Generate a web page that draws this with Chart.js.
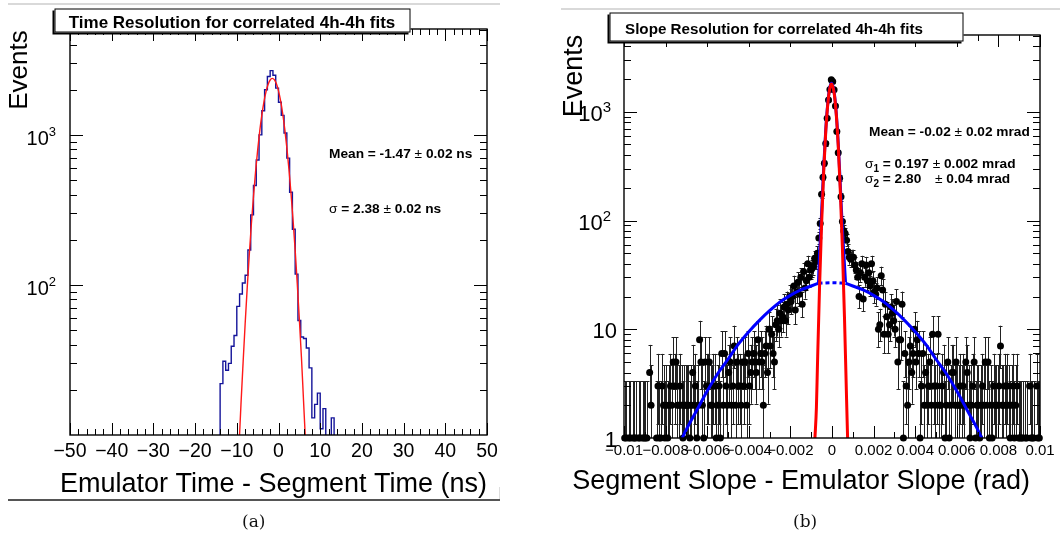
<!DOCTYPE html>
<html>
<head>
<meta charset="utf-8">
<title>Time and slope resolution for correlated 4h-4h fits</title>
<script src="https://cdn.jsdelivr.net/npm/chart.js@4.4.1/dist/chart.umd.min.js"></script>
<style>
  html, body { margin: 0; padding: 0; background: #fff; }
  body { position: relative; width: 1060px; height: 538px; overflow: hidden; }
  .panel { position: absolute; top: 0; width: 530px; height: 538px; }
  .rule { position: absolute; }
  .cap { position: absolute; top: 511px; font: 17px "DejaVu Serif", "Liberation Serif", serif; color: #111; }
</style>
</head>
<body>
<div class="panel" style="left:0"><canvas id="timeChart"></canvas></div>
<div class="panel" style="left:530px"><canvas id="slopeChart"></canvas></div>
<div class="rule" style="left:8px;top:3px;width:492px;height:2px;background:#d9d9d9"></div>
<div class="rule" style="left:561px;top:8px;width:499px;height:2px;background:#d9d9d9"></div>
<div class="rule" style="left:8px;top:499px;width:492px;height:2px;background:#555"></div>
<div class="rule" style="left:499px;top:487px;width:1px;height:12px;background:#ddd"></div>
<div class="cap" style="left:242px">(a)</div>
<div class="cap" style="left:793px">(b)</div>
<script>
// ---------- panel (a): emulator time - segment time, bins of 2/3 ns
const timeLo = -14;
const timeBinWidth = 2 / 3;
const timeCounts = [
  22, 31, 27, 30, 39, 46, 72, 87, 103, 116,
  171, 293, 460, 680, 1000, 1450, 2000, 2450, 2680, 2500,
  2050, 1650, 1350, 1030, 700, 415, 235, 118, 58, 45,
  44, 38, 28, 13, 16, 19, 11, 15, 0, 0,
  13, 0
];
// gaussian fit
const timeFitX = [-9.6, -9, -8.5, -8, -7.5, -7, -6.5, -6, -5.5, -5, -4.5, -4, -3.5, -3, -2.5, -2, -1.5,
  -1, -0.5, 0, 0.5, 1, 1.5, 2, 2.5, 3, 3.5, 4, 4.5, 5, 5.5, 6, 6.4];
const timeFitY = [7, 16, 30, 55, 96, 160, 256, 389, 568, 792, 1059, 1353, 1655, 1935, 2167, 2322, 2380,
  2334, 2190, 1967, 1690, 1389, 1093, 822, 592, 408, 269, 170, 102, 59, 33, 17, 10];
const timeTicks = [-50, -40, -30, -20, -10, 0, 10, 20, 30, 40, 50];
const timeTickLabels = ['\u221250', '\u221240', '\u221230', '\u221220', '\u221210', '0', '10', '20', '30', '40', '50'];
const timeYLabels = [{ v: 100, base: '10', exp: '2' }, { v: 1000, base: '10', exp: '3' }];

// ---------- panel (b): segment slope - emulator slope, 300 bins in [-0.01, 0.01]
const slopeLo = -0.01;
const slopeHi = 0.01;
const slopeCounts = [
  1, 1, 0, 1, 1, 0, 1, 1, 1, 0, 1, 1, 0, 1, 1,
  1, 1, 0, 4, 2, 0, 0, 0, 1, 3, 1, 1, 3, 2, 1,
  2, 1, 2, 3, 2, 5, 3, 5, 2, 2, 3, 2, 1, 2, 2,
  2, 2, 1, 2, 4, 2, 3, 1, 2, 8, 5, 2, 1, 5, 3,
  3, 5, 2, 2, 3, 3, 1, 2, 3, 1, 6, 2, 6, 3, 2,
  4, 5, 2, 3, 7, 2, 5, 3, 3, 2, 5, 3, 5, 2, 6,
  3, 4, 5, 6, 5, 4, 8, 5, 6, 5, 2, 6, 7, 4, 10,
  7, 9, 6, 5, 11, 12, 10, 14, 12, 13, 16, 12, 17, 15, 20,
  18, 20, 25, 15, 22, 27, 21, 30, 17, 34, 24, 28, 40, 30, 35,
  36, 38, 45, 42, 50, 69, 94, 174, 250, 336, 510, 870, 1280, 1600, 1970,
  1900, 1590, 1130, 660, 420, 245, 165, 98, 80, 76, 66, 52, 46, 44, 46,
  46, 39, 35, 30, 20, 33, 40, 19, 30, 39, 28, 33, 25, 40, 28,
  22, 21, 24, 10, 11, 31, 23, 9, 17, 13, 9, 11, 16, 14, 12,
  10, 18, 5, 8, 8, 17, 1, 6, 3, 2, 5, 7, 4, 6, 10,
  5, 8, 6, 1, 3, 6, 2, 4, 2, 3, 5, 2, 9, 3, 2,
  3, 9, 2, 2, 3, 4, 1, 2, 5, 1, 2, 4, 4, 2, 5,
  2, 2, 3, 2, 3, 2, 5, 4, 2, 1, 2, 3, 5, 1, 2,
  2, 1, 2, 3, 2, 5, 2, 5, 1, 2, 1, 3, 2, 2, 2,
  3, 7, 2, 2, 3, 2, 3, 2, 1, 2, 3, 1, 2, 3, 1,
  1, 1, 1, 0, 1, 1, 0, 3, 1, 1, 1, 0, 3, 1, 1
];
// narrow gaussian (red)
const narrowX = [-0.00082, -0.00075, -0.0007, -0.0006, -0.0005, -0.0004, -0.0003, -0.0002, -0.0001, -0.00002,
  0.0001, 0.0002, 0.0003, 0.0004, 0.0005, 0.0006, 0.0007, 0.00075];
const narrowY = [1, 1.9, 4.6, 24, 93, 280, 660, 1190, 1660, 1800, 1500, 970, 485, 186, 56, 12.8, 2.3, 1];
// total fit (blue) over the peak, and the wide component on both sides
const totalX = [-0.00065, -0.0006, -0.00055, -0.0005, -0.0004, -0.0003, -0.0002, -0.0001, -0.00002,
  0.0001, 0.0002, 0.0003, 0.0004, 0.0005, 0.00055, 0.0006, 0.00065];
const totalY = [27, 50, 72, 119, 306, 686, 1216, 1686, 1826, 1526, 996, 511, 212, 82, 58, 39, 27];
const wideLeftX = [-0.0072, -0.007, -0.0065, -0.006, -0.0055, -0.005, -0.0045, -0.004, -0.0035, -0.003,
  -0.0025, -0.002, -0.0015, -0.001, -0.00065];
const wideLeftY = [1, 1.2, 1.8, 2.7, 3.9, 5.3, 7.3, 9.5, 12, 14.8, 17.8, 20.5, 23, 25, 26.5];
const wideRightX = [0.00065, 0.001, 0.0015, 0.002, 0.0025, 0.003, 0.0035, 0.004, 0.0045, 0.005, 0.0055,
  0.006, 0.0065, 0.007, 0.0072];
const wideRightY = [26.5, 25, 23, 20.5, 17.8, 14.8, 12, 9.5, 7.3, 5.3, 3.9, 2.7, 1.8, 1.2, 1];
const wideMidX = [-0.00065, 0, 0.00065];
const wideMidY = [26.5, 26.8, 26.5];
const slopeTicks = [-0.01, -0.008, -0.006, -0.004, -0.002, 0, 0.002, 0.004, 0.006, 0.008, 0.01];
const slopeTickLabels = ['\u22120.01', '\u22120.008', '\u22120.006', '\u22120.004', '\u22120.002', '0',
  '0.002', '0.004', '0.006', '0.008', '0.01'];
const slopeYLabels = [{ v: 1, base: '1' }, { v: 10, base: '10' }, { v: 100, base: '10', exp: '2' },
  { v: 1000, base: '10', exp: '3' }];

const FONT = '"Liberation Sans", Arial, Helvetica, sans-serif';

function put(ctx, s, x, y, size, o = {}) {
  ctx.font = (o.bold ? 'bold ' : '') + size + 'px ' + FONT;
  ctx.textAlign = o.align || 'left';
  ctx.textBaseline = 'alphabetic';
  ctx.fillStyle = '#000';
  ctx.fillText(s, x, y);
  return ctx.measureText(s).width;
}

// pieces of an annotation line: [text, size, bold, dy, fixedX]
function run(ctx, parts, x, y) {
  parts.forEach(p => {
    if (p[4] !== undefined) x = p[4];
    x += put(ctx, p[0], x, y + (p[3] || 0), p[1], { bold: p[2] });
  });
}

function yLabel(ctx, l, right, py, size, es, dyBase, dyExp) {
  if (!l.exp) { put(ctx, l.base, right + 6, py + dyBase, size, { align: 'right' }); return; }
  ctx.font = es + 'px ' + FONT;
  const we = ctx.measureText(l.exp).width;
  put(ctx, l.base, right - we, py + dyBase, size, { align: 'right' });
  put(ctx, l.exp, right, py + dyExp, es, { align: 'right' });
}

function titleBox(ctx, bx, by, bw, bh) {
  ctx.fillStyle = '#000';
  ctx.fillRect(bx - 2, by + 2, bw, bh);
  ctx.fillStyle = '#fff';
  ctx.fillRect(bx, by, bw, bh);
  ctx.strokeStyle = '#000';
  ctx.lineWidth = 1;
  ctx.strokeRect(bx + 0.5, by + 0.5, bw - 1, bh - 1);
}

function vertTitle(ctx, s, x, y, size) {
  ctx.save();
  ctx.translate(x, y);
  ctx.rotate(-Math.PI / 2);
  put(ctx, s, 0, 0, size, { align: 'center' });
  ctx.restore();
}

// ROOT style frame: ticks on all four sides, drawn over the data
function rootFrame(spec) {
  return {
    id: 'rootFrame',
    afterDatasetsDraw(chart) {
      const { ctx, chartArea: a, scales: { x, y } } = chart;
      ctx.save();
      ctx.strokeStyle = '#000';
      ctx.lineWidth = 1;
      ctx.beginPath();
      const tickX = (v, len) => {
        const px = Math.round(x.getPixelForValue(v)) + 0.5;
        ctx.moveTo(px, a.bottom); ctx.lineTo(px, a.bottom - len);
        ctx.moveTo(px, a.top); ctx.lineTo(px, a.top + len);
      };
      const tickY = (v, len) => {
        const py = Math.round(y.getPixelForValue(v)) + 0.5;
        ctx.moveTo(a.left, py); ctx.lineTo(a.left + len, py);
        ctx.moveTo(a.right, py); ctx.lineTo(a.right - len, py);
      };
      const n = Math.round((spec.xTicks[spec.xTicks.length - 1] - spec.xTicks[0]) / spec.xMinorStep);
      for (let i = 0; i <= n; i++) tickX(spec.xTicks[0] + i * spec.xMinorStep, 6);
      spec.xTicks.forEach(v => tickX(v, 12));
      for (let d = spec.yMin; d < spec.yMax; d *= 10) {
        for (let m = 2; m <= 9; m++) if (d * m < spec.yMax) tickY(d * m, 7);
      }
      spec.yLabels.forEach(l => tickY(l.v, 13));
      ctx.stroke();
      ctx.lineWidth = 1.4;
      ctx.strokeRect(a.left, a.top, a.right - a.left, a.bottom - a.top);
      spec.draw(ctx, a, x, y);
      ctx.restore();
    }
  };
}

function curve(xs, ys, color, width, order, extra) {
  return Object.assign({
    data: xs.map((v, i) => ({ x: v, y: ys[i] })),
    borderColor: color, borderWidth: width, pointRadius: 0, fill: false,
    cubicInterpolationMode: 'monotone', clip: 0, order: order
  }, extra || {});
}

const baseOptions = (padding, xMin, xMax, yMin, yMax) => ({
  responsive: true, maintainAspectRatio: false, animation: false, devicePixelRatio: 1,
  layout: { padding: padding },
  events: [],
  plugins: { legend: { display: false }, tooltip: { enabled: false } },
  scales: {
    x: { type: 'linear', min: xMin, max: xMax, display: false },
    y: { type: 'logarithmic', min: yMin, max: yMax, display: false }
  }
});

// ---------- chart (a)
const timeHist = [{ x: timeLo, y: 1 }];
timeCounts.forEach((c, k) => timeHist.push({ x: timeLo + k * timeBinWidth, y: c > 0 ? c : 1 }));
timeHist.push({ x: timeLo + timeCounts.length * timeBinWidth, y: 1 });

new Chart(document.getElementById('timeChart'), {
  type: 'line',
  data: {
    datasets: [
      curve(timeFitX, timeFitY, 'rgb(255,25,25)', 1.4, 0),
      { data: timeHist, stepped: true, borderColor: '#14149a', borderWidth: 1.4, pointRadius: 0,
        fill: false, clip: 0, order: 1 }
    ]
  },
  options: baseOptions({ left: 70, right: 43, top: 29, bottom: 103 }, -50, 50, 10, 5080),
  plugins: [rootFrame({
    xTicks: timeTicks, xMinorStep: 2, yMin: 10, yMax: 5080, yLabels: timeYLabels,
    draw(ctx, a, x, y) {
      timeTicks.forEach((v, i) => put(ctx, timeTickLabels[i], x.getPixelForValue(v), 457, 19.5, { align: 'center' }));
      timeYLabels.forEach(l => yLabel(ctx, l, 56, y.getPixelForValue(l.v), 20, 13, 10.5, 1));
      put(ctx, 'Emulator Time - Segment Time (ns)', 487, 492, 27, { align: 'right' });
      vertTitle(ctx, 'Events', 27, 70, 26);
      run(ctx, [['Mean = -1.47 ', 13.7, true], ['\u00b1', 13.7, false], [' 0.02 ns', 13.7, true]], 329, 158);
      run(ctx, [['\u03c3', 13.7, false], [' = 2.38 ', 13.7, true], ['\u00b1', 13.7, false], [' 0.02 ns', 13.7, true]], 329, 213);
      titleBox(ctx, 54.5, 8.5, 356, 24);
      put(ctx, 'Time Resolution for correlated 4h-4h fits', 232, 27.5, 17, { bold: true, align: 'center' });
    }
  })]
});

// ---------- chart (b)
const slopeBin = (slopeHi - slopeLo) / slopeCounts.length;
const slopePoints = slopeCounts
  .map((c, j) => ({ x: slopeLo + (j + 0.5) * slopeBin, y: c }))
  .filter(p => p.y > 0);

const errorBars = {
  id: 'errorBars',
  beforeDatasetsDraw(chart) {
    const { ctx, chartArea: a, scales: { y } } = chart;
    const meta = chart.getDatasetMeta(4);
    ctx.save();
    ctx.beginPath();
    ctx.rect(a.left, a.top, a.right - a.left, a.bottom - a.top);
    ctx.clip();
    ctx.strokeStyle = '#222';
    ctx.lineWidth = 1;
    ctx.beginPath();
    meta.data.forEach((pt, i) => {
      const c = slopePoints[i].y;
      // poisson 68% interval
      const hi = c + Math.sqrt(c + 0.75) + 1;
      const lo = c - Math.sqrt(c - 0.25);
      const yHi = y.getPixelForValue(hi);
      const yLo = y.getPixelForValue(lo);
      const px = Math.round(pt.x) + 0.5;
      ctx.moveTo(px, yLo); ctx.lineTo(px, yHi);
      ctx.moveTo(px - 2, Math.round(yHi) + 0.5); ctx.lineTo(px + 2, Math.round(yHi) + 0.5);
      ctx.moveTo(px - 2, Math.round(yLo) + 0.5); ctx.lineTo(px + 2, Math.round(yLo) + 0.5);
    });
    ctx.stroke();
    ctx.restore();
  }
};

new Chart(document.getElementById('slopeChart'), {
  type: 'line',
  data: {
    datasets: [
      curve(narrowX, narrowY, '#ff0000', 3, 0),
      curve(totalX, totalY, '#0000ff', 3, 1),
      curve(wideLeftX, wideLeftY, '#0000ff', 3, 1),
      curve(wideRightX, wideRightY, '#0000ff', 3, 1),
      { data: slopePoints, showLine: false, pointRadius: 3.5, pointBackgroundColor: '#000',
        pointBorderWidth: 0, clip: false, order: 3 },
      curve(wideMidX, wideMidY, '#0000ff', 3, 1, { borderDash: [4, 3] })
    ]
  },
  options: baseOptions({ left: 94, right: 20, top: 35, bottom: 100 }, slopeLo, slopeHi, 1, 5080),
  plugins: [errorBars, rootFrame({
    xTicks: slopeTicks, xMinorStep: 0.001, yMin: 1, yMax: 5080, yLabels: slopeYLabels,
    draw(ctx, a, x, y) {
      slopeTicks.forEach((v, i) => put(ctx, slopeTickLabels[i], x.getPixelForValue(v), 455, 15, { align: 'center' }));
      slopeYLabels.forEach(l => yLabel(ctx, l, 81, y.getPixelForValue(l.v), 22, 15, 9, 0));
      put(ctx, 'Segment Slope - Emulator Slope (rad)', 500, 489, 27, { align: 'right' });
      vertTitle(ctx, 'Events', 52, 76, 27);
      run(ctx, [['Mean = -0.02 ', 13.7, true], ['\u00b1', 13.7, false], [' 0.02 mrad', 13.7, true]], 339, 136);
      run(ctx, [['\u03c3', 13.7, false], ['1', 10, true, 4], [' = 0.197 ', 13.7, true], ['\u00b1', 13.7, false],
        [' 0.002 mrad', 13.7, true]], 335, 168);
      run(ctx, [['\u03c3', 13.7, false], ['2', 10, true, 4], [' = 2.80', 13.7, true], ['\u00b1', 13.7, false, 0, 405],
        [' 0.04 mrad', 13.7, true]], 335, 183);
      titleBox(ctx, 79.5, 12.5, 354, 29);
      put(ctx, 'Slope Resolution for correlated 4h-4h fits', 95, 33.5, 15.2, { bold: true });
    }
  })]
});
</script>
</body>
</html>
